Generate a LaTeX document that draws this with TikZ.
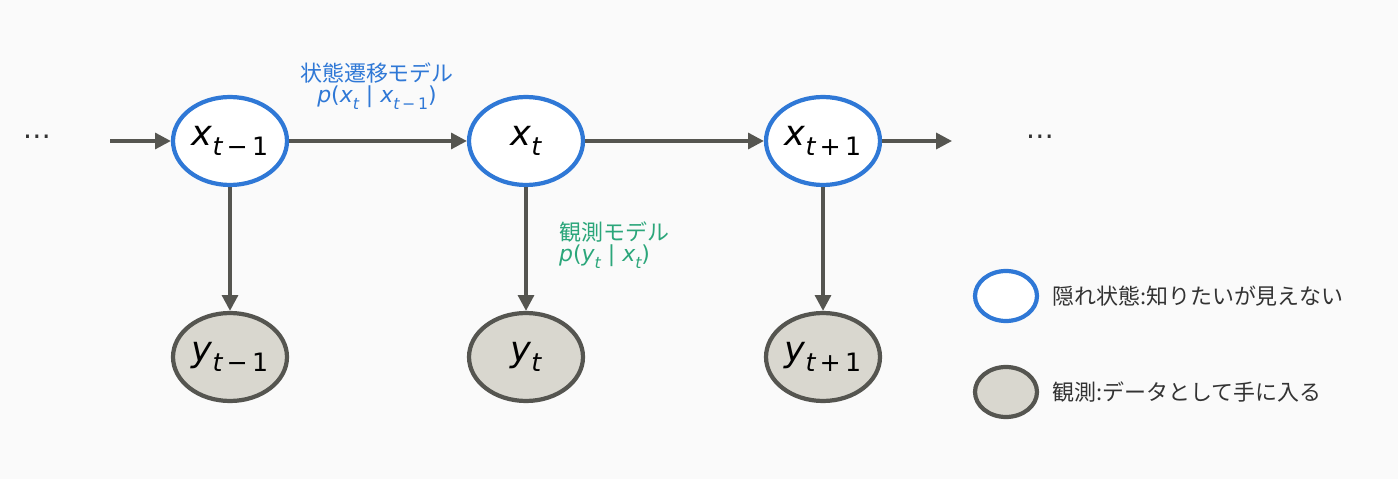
\documentclass[tikz,border=0pt]{standalone}
\usepackage{fontspec}
\setmainfont{DejaVu Sans}
\newfontfamily\jp{Noto Sans CJK JP}
\usetikzlibrary{arrows.meta}
\definecolor{bg}{HTML}{FAFAFA}
\definecolor{blu}{HTML}{2F78D6}
\definecolor{grn}{HTML}{2BA67A}
\definecolor{edge}{HTML}{555550}
\definecolor{gfill}{HTML}{D9D7CF}
\definecolor{txt}{HTML}{333333}
\newcommand{\vv}[2]{{\itshape #1}\raisebox{-0.55ex}{\scalebox{0.72}{#2}}}
\begin{document}
\begin{tikzpicture}[x=0.02cm,y=-0.02cm,
 hid/.style={ellipse,draw=blu,line width=2.4pt,fill=white,minimum width=2.28cm,minimum height=1.76cm,inner sep=0pt,font=\fontsize{20}{22}\selectfont,text=black},
 obs/.style={ellipse,draw=edge,line width=2.4pt,fill=gfill,minimum width=2.28cm,minimum height=1.76cm,inner sep=0pt,font=\fontsize{20}{22}\selectfont,text=black},
 arr/.style={draw=edge,line width=2pt,-{Triangle[length=9pt,width=9pt]}},
 lab/.style={font=\fontsize{12.5}{14}\selectfont,align=center}]
\usetikzlibrary{shapes.geometric}
\fill[bg] (0,0) rectangle (1398,479);
\node[hid] (x1) at (230,141) {\vv{x}{{\itshape t}\,−\,1}};
\node[hid] (x2) at (526,141) {\vv{x}{{\itshape t}}};
\node[hid] (x3) at (823,141) {\vv{x}{{\itshape t}\,+\,1}};
\node[obs] (y1) at (230,357) {\vv{y}{{\itshape t}\,−\,1}};
\node[obs] (y2) at (526,357) {\vv{y}{{\itshape t}}};
\node[obs] (y3) at (823,357) {\vv{y}{{\itshape t}\,+\,1}};
\node[font=\fontsize{16}{18}\selectfont,text=txt] (d1) at (37,137) {\ldots};
\node[font=\fontsize{16}{18}\selectfont,text=txt] (d2) at (1040,137) {\ldots};
\coordinate (s) at (110,141);
\coordinate (e) at (952,141);
\draw[arr] (s) -- (x1);
\draw[arr] (x1) -- (x2);
\draw[arr] (x2) -- (x3);
\draw[arr] (x3) -- (e);
\draw[arr] (x1) -- (y1);
\draw[arr] (x2) -- (y2);
\draw[arr] (x3) -- (y3);
\node[lab,text=blu] (t1) at (377,86) {{\jp 状態遷移モデル}\\[-2pt] \textit{p}(\vv{x}{\itshape t} | \vv{x}{{\itshape t}\,−\,1})};
\node[lab,text=grn,anchor=west,align=left] (t2) at (553,245) {{\jp 観測モデル}\\[-2pt] \textit{p}(\vv{y}{\itshape t} | \vv{x}{\itshape t})};
\node[ellipse,draw=blu,line width=2.4pt,fill=white,minimum width=1.24cm,minimum height=1.0cm] (l1) at (1006,296) {};
\node[ellipse,draw=edge,line width=2.4pt,fill=gfill,minimum width=1.24cm,minimum height=1.0cm] (l2) at (1006,392) {};
\node[anchor=west,text=txt,font=\jp\fontsize{12.5}{14}\selectfont] (lt1) at (1046,296) {隠れ状態:知りたいが見えない};
\node[anchor=west,text=txt,font=\jp\fontsize{12.5}{14}\selectfont] (lt2) at (1046,392) {観測:データとして手に入る};
\end{tikzpicture}
\end{document}
